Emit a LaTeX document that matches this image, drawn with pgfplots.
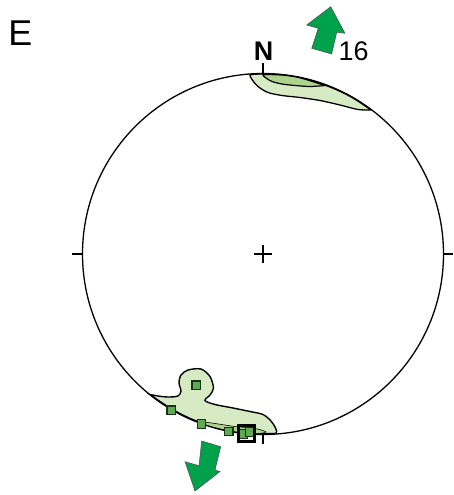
\documentclass[border=0pt]{standalone}
\usepackage{pgfplots}
\pgfplotsset{compat=1.18}
\usepackage{fontspec}
\setmainfont{Liberation Sans}
\definecolor{lightg}{RGB}{214,234,196}
\definecolor{midg}{RGB}{172,212,140}
\definecolor{arrowg}{RGB}{0,161,75}
\definecolor{sqfill}{RGB}{95,170,80}
\definecolor{sqdraw}{RGB}{25,50,25}
\begin{document}
\begin{tikzpicture}
\begin{axis}[hide axis, scale only axis, width=453bp, height=495bp,
  xmin=0, xmax=453, ymin=0, ymax=495, y dir=reverse, clip=false]
% invisible corners, keeps the page at full size
\addplot[draw=none] coordinates {(0,0) (453,495)};

% contours, north
\addplot[fill=lightg, draw=black, line width=1.3pt, smooth, tension=0.5] coordinates {
  (371,110) (358,109.5) (340,105) (320,100.5) (300,97.5) (282,95.5) (268,92.5)
  (258,86.5) (252,79.5) (250,75) (256,74.2) (263,74) (280,74.8) (300,77.8)
  (320,83.2) (340,91.3) (355,99.2) (371,110)} -- cycle;
\addplot[fill=midg, draw=black, line width=1.2pt, smooth, tension=0.5] coordinates {
  (325,85.5) (310,86.5) (295,85.5) (282,84) (272,81.5) (266,78) (263,75)
  (270,74.6) (285,75.3) (300,77.8) (325,85.5)} -- cycle;

% contours, south
\addplot[fill=lightg, draw=black, line width=1.4pt, smooth, tension=0.5] coordinates {
  (150,394.5) (158,396) (168,397) (178,396) (181,391) (179,383) (181,375)
  (188,370) (201,369) (210,376.5) (213.5,388) (210,395) (205,400.5)
  (215,404.5) (233,408) (250,411.5) (263,414.5) (271,421) (275.5,428)
  (276.5,433) (270,433.5) (263,433.8) (250,433.3) (235,431.6) (220,428.6)
  (205,424.2) (190,418.4) (175,410.9) (160,401.5) (150,394.5)} -- cycle;
\addplot[fill=midg, draw=black, line width=0.6pt, smooth, tension=0.5] coordinates {
  (197,421) (215,423.5) (235,426.5) (255,428.5) (266,432) (255,433.8)
  (240,432.6) (220,429) (205,424.8) (197,421)} -- cycle;

% primitive circle, ticks and centre
\draw[black, line width=1.3pt] (axis cs:263,254) circle[radius=180.5];
\addplot[black, line width=1.3pt] coordinates {(72,254) (82,254)};
\addplot[black, line width=1.3pt] coordinates {(443,254) (453,254)};
\addplot[black, line width=1.3pt] coordinates {(263,63) (263,73.5)};
\addplot[black, line width=1.3pt] coordinates {(263,434.5) (263,444)};
\addplot[black, line width=1.3pt] coordinates {(254,254) (272,254)};
\addplot[black, line width=1.3pt] coordinates {(263,245) (263,263)};

% data points
\addplot[only marks, mark=square*, mark size=4.3,
  mark options={fill=sqfill, draw=sqdraw, line width=1.4pt}] coordinates {
  (196.3,385.3) (171.3,410.3) (201.5,424) (228.7,431.5) (243.5,434) (249.5,432)};
\addplot[only marks, mark=square, mark size=8,
  mark options={draw=black, line width=2.6pt}] coordinates {(246.7,433.5)};

% arrows
\addplot[fill=arrowg, draw=black!70, line width=0.5pt] coordinates {
  (330.7,6.7) (345,33.3) (336.7,32.3) (331.7,54) (311.7,48.3)
  (318.3,28.3) (306.7,25)} -- cycle;
\addplot[fill=arrowg, draw=black!70, line width=0.5pt] coordinates {
  (201.7,441) (220.7,446.7) (215,470) (220,471.5) (195,491)
  (185,461.7) (199,465.7)} -- cycle;

% labels
\node[inner sep=0, anchor=center] at (axis cs:20.3,33) {\fontsize{36}{40}\selectfont E};
\node[inner sep=0, anchor=center] at (axis cs:263.7,51.7) {\fontsize{27}{30}\selectfont\bfseries N};
\node[inner sep=0, anchor=center] at (axis cs:353.7,51.7) {\fontsize{27}{30}\selectfont 16};
\end{axis}
\end{tikzpicture}
\end{document}
